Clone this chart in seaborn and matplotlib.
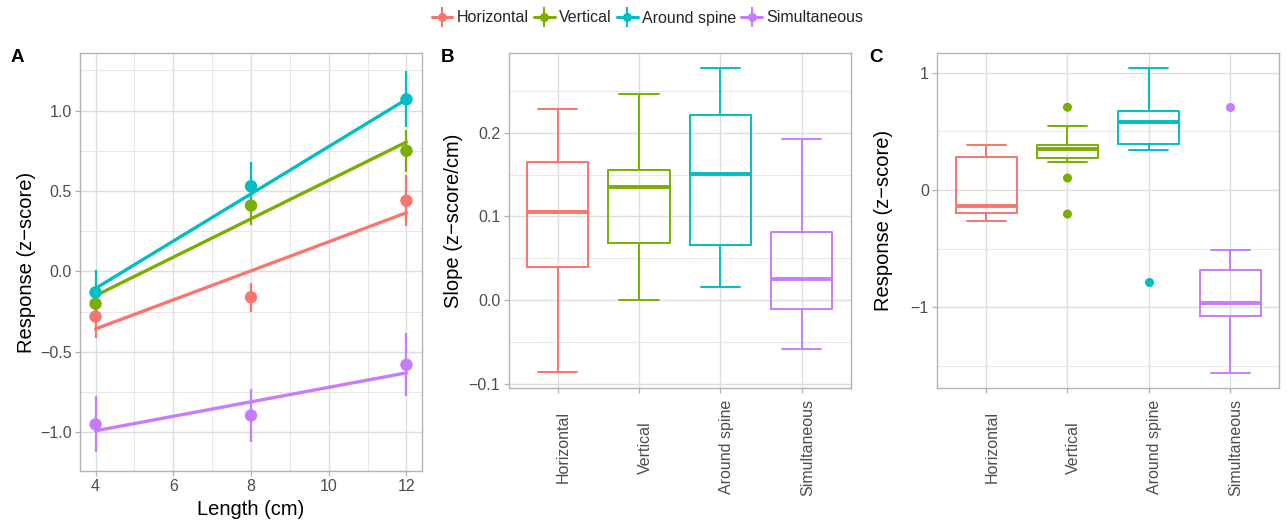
import numpy as np
import pandas as pd
import matplotlib
matplotlib.use("Agg")
import matplotlib.pyplot as plt
import seaborn as sns
from matplotlib.lines import Line2D
from matplotlib.legend_handler import HandlerTuple
from matplotlib.ticker import MultipleLocator
from matplotlib.transforms import ScaledTranslation

# ---------------- data ----------------
categories = ["Horizontal", "Vertical", "Around spine", "Simultaneous"]
colors = ["#F8766D", "#7CAE00", "#00BFC4", "#C77CFF"]

lengths = [4, 8, 12]
horizontal_mean = [-0.28, -0.16, 0.44]
horizontal_se = [0.135, 0.09, 0.16]
vertical_mean = [-0.20, 0.41, 0.75]
vertical_se = [0.10, 0.12, 0.13]
spine_mean = [-0.13, 0.53, 1.07]
spine_se = [0.14, 0.15, 0.175]
simultaneous_mean = [-0.95, -0.895, -0.58]
simultaneous_se = [0.175, 0.165, 0.195]

fit_lengths = [4, 12]
horizontal_fit = [-0.357, 0.365]
vertical_fit = [-0.150, 0.805]
spine_fit = [-0.105, 1.07]
simultaneous_fit = [-0.99, -0.63]

# panel B: slopes (whisker low, Q1, median, Q3, whisker high)
slope_horizontal = [-0.086, 0.040, 0.105, 0.165, 0.228]
slope_vertical = [0.000, 0.068, 0.135, 0.155, 0.246]
slope_spine = [0.016, 0.066, 0.151, 0.221, 0.277]
slope_simultaneous = [-0.058, -0.010, 0.026, 0.082, 0.193]

# panel C: responses (whisker low, Q1, median, Q3, whisker high) + outliers
resp_horizontal = [-0.264, -0.196, -0.134, 0.281, 0.381]
resp_vertical = [0.241, 0.276, 0.349, 0.381, 0.545]
resp_spine = [0.344, 0.395, 0.580, 0.670, 1.043]
resp_simultaneous = [-1.557, -1.077, -0.966, -0.679, -0.514]
outlier_groups = ["Vertical", "Vertical", "Vertical", "Around spine", "Simultaneous"]
outlier_values = [0.705, 0.102, -0.205, -0.787, 0.707]

# ---------------- frames ----------------
means = [horizontal_mean, vertical_mean, spine_mean, simultaneous_mean]
ses = [horizontal_se, vertical_se, spine_se, simultaneous_se]
fits = [horizontal_fit, vertical_fit, spine_fit, simultaneous_fit]
pts = pd.DataFrame([
    dict(group=g, length=l, mean=m, se=s)
    for g, mm, ss in zip(categories, means, ses)
    for l, m, s in zip(lengths, mm, ss)
])
fitdf = pd.DataFrame([
    dict(group=g, length=l, fit=f)
    for g, ff in zip(categories, fits)
    for l, f in zip(fit_lengths, ff)
])
slopes = pd.DataFrame([
    dict(group=g, value=v)
    for g, vv in zip(categories, [slope_horizontal, slope_vertical, slope_spine, slope_simultaneous])
    for v in vv
])
resp = pd.DataFrame([
    dict(group=g, value=v)
    for g, vv in zip(categories, [resp_horizontal, resp_vertical, resp_spine, resp_simultaneous])
    for v in vv
])
outl = pd.DataFrame(dict(group=outlier_groups, value=outlier_values))
palette = dict(zip(categories, colors))

# ---------------- style ----------------
sns.set_theme(style="white")
plt.rcParams["font.family"] = ["Liberation Sans", "DejaVu Sans"]
TICK_C = "#4D4D4D"
BORDER = "#B3B3B3"
GRID = "#DEDEDE"

W, H = 1287, 522
fig = plt.figure(figsize=(W / 100, H / 100), dpi=100)
axA = fig.add_axes([80 / W, 1 - 471 / H, 342 / W, 418 / H])
axB = fig.add_axes([508.7 / W, 1 - 388.3 / H, 342 / W, 335.6 / H])
axC = fig.add_axes([937.3 / W, 1 - 388.3 / H, 341.7 / W, 335.6 / H])


def style_axes(ax):
    ax.set_facecolor("white")
    for sp in ax.spines.values():
        sp.set_visible(True)
        sp.set_color(BORDER)
        sp.set_linewidth(1.0)
    ax.set_axisbelow(True)
    ax.grid(True, which="major", color=GRID, linewidth=1.0)
    ax.grid(True, which="minor", color="#E8E8E8", linewidth=0.7)
    ax.tick_params(which="major", length=3.5, width=0.9, color=BORDER,
                   labelcolor=TICK_C, labelsize=11.5, pad=2.5,
                   bottom=True, left=True)
    ax.tick_params(which="minor", length=0)


# ---------------- panel A ----------------
ax = axA
for g, c in zip(categories, colors):
    sub = pts[pts.group == g]
    ax.vlines(sub["length"], sub["mean"] - sub["se"], sub["mean"] + sub["se"],
              color=c, linewidth=1.6, zorder=2)
sns.lineplot(data=fitdf, x="length", y="fit", hue="group", palette=palette,
             hue_order=categories, linewidth=2.4, legend=False, ax=ax, zorder=3)
sns.scatterplot(data=pts, x="length", y="mean", hue="group", palette=palette,
                hue_order=categories, s=80, edgecolor="none", legend=False,
                ax=ax, zorder=4)
ax.set_xlim(3.6, 12.4)
ax.set_ylim(-1.24, 1.358)
ax.set_xticks([4, 6, 8, 10, 12])
ax.set_yticks([-1.0, -0.5, 0.0, 0.5, 1.0])
ax.xaxis.set_minor_locator(MultipleLocator(1))
ax.yaxis.set_minor_locator(MultipleLocator(0.25))
style_axes(ax)
ax.set_xlabel("Length (cm)", fontsize=14.5, color="black", labelpad=4)
ax.set_ylabel("Response (z\u2212score)", fontsize=14.5, color="black", labelpad=3)

# ---------------- panels B and C ----------------
def draw_box(ax, df):
    sns.boxplot(data=df, x="group", y="value", hue="group", order=categories,
                hue_order=categories, palette=palette, fill=False, width=0.75,
                whis=np.inf, linewidth=1.4, saturation=1, fliersize=0,
                legend=False, ax=ax, capwidths=0.48,
                medianprops=dict(linewidth=2.8))


draw_box(axB, slopes)
axB.set_ylim(-0.105, 0.2954)
axB.set_yticks([-0.1, 0.0, 0.1, 0.2])
axB.yaxis.set_minor_locator(MultipleLocator(0.05))
axB.set_ylabel("Slope (z\u2212score/cm)", fontsize=14.5, color="black", labelpad=4)

draw_box(axC, resp)
sns.stripplot(data=outl, x="group", y="value", hue="group", order=categories,
              hue_order=categories, palette=palette, jitter=False, size=6.5,
              linewidth=0, legend=False, ax=axC, zorder=5)
axC.set_ylim(-1.69, 1.17)
axC.set_yticks([-1, 0, 1])
axC.yaxis.set_minor_locator(MultipleLocator(0.5))
axC.set_ylabel("Response (z\u2212score)", fontsize=14.5, color="black", labelpad=13)

for ax in (axB, axC):
    ax.set_xlim(-0.6, 3.6)
    style_axes(ax)
    ax.set_xlabel("")
    ax.tick_params(axis="x", pad=39)
    ax.set_xticks(range(len(categories)))
    ax.set_xticklabels(categories, rotation=90, va="center", ha="center")
    off = ScaledTranslation(6 / 100, 0, fig.dpi_scale_trans)
    for lab in ax.get_xticklabels():
        lab.set_transform(lab.get_transform() + off)

# ---------------- panel letters ----------------
for txt, x in (("A", 11), ("B", 441), ("C", 869)):
    fig.text(x / W, 1 - 57 / H, txt, fontsize=13.5, fontweight="bold",
             va="center", ha="left", color="black")

# ---------------- legend ----------------
handles = []
for c in colors:
    handles.append((
        Line2D([], [], color=c, linewidth=2.2, marker="o", markersize=6.5,
               markeredgewidth=0),
        Line2D([], [], color=c, linewidth=0, marker="|", markersize=15,
               markeredgewidth=1.5),
    ))
fig.legend(handles, categories, loc="center", bbox_to_anchor=(0.503, 1 - 18 / H),
           ncol=4, frameon=False, fontsize=11.5, handlelength=1.3,
           handletextpad=0.25, columnspacing=0.35,
           handler_map={tuple: HandlerTuple(ndivide=1, pad=0)})

fig.savefig("out.png", dpi=100)
